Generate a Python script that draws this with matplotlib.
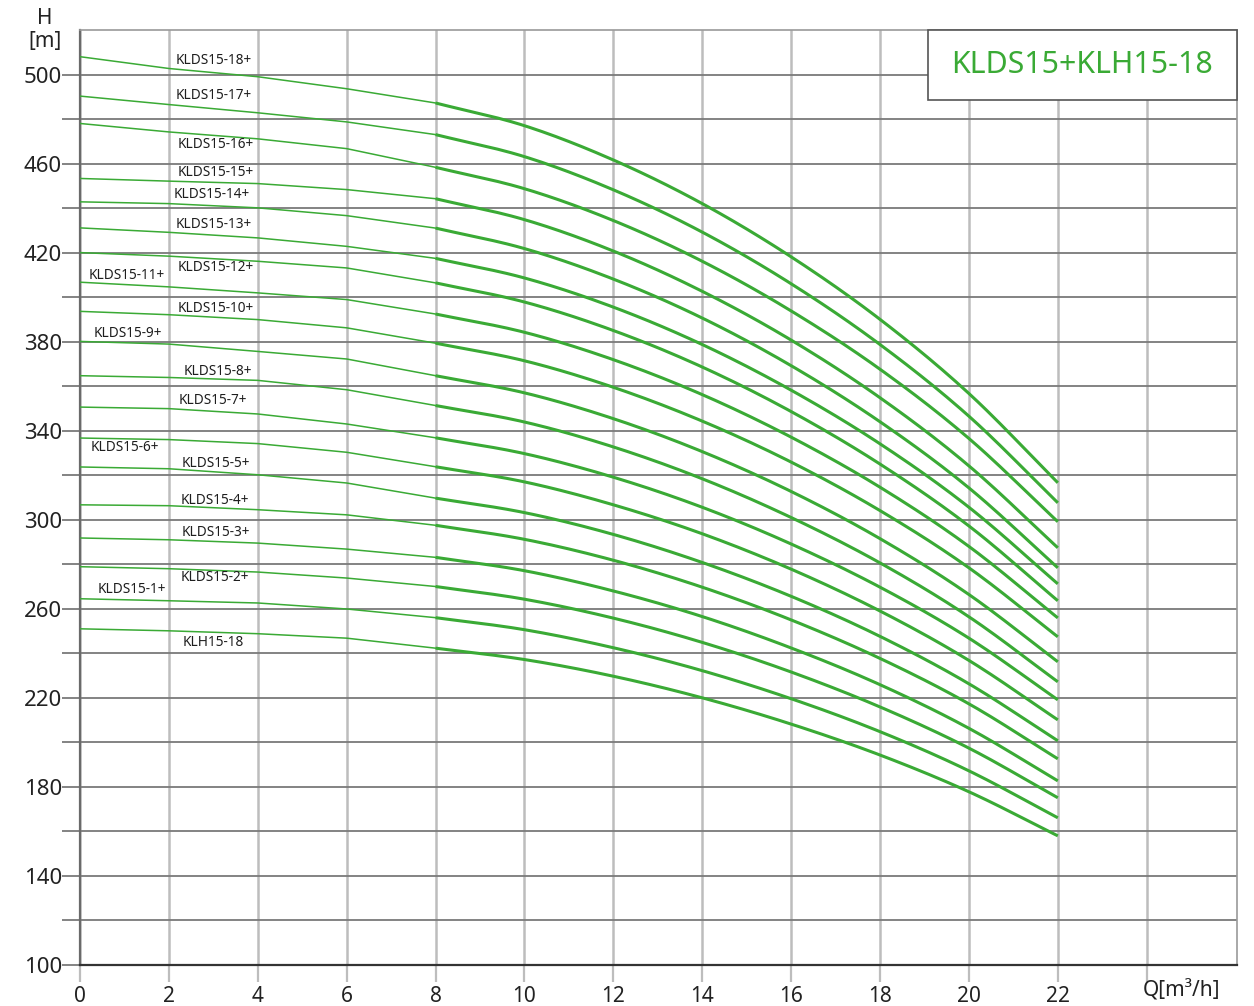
import numpy as np
import matplotlib
matplotlib.use("Agg")
import matplotlib.pyplot as plt
import matplotlib.ticker as mticker
from matplotlib.patches import Rectangle

plt.rcParams["font.family"] = ["Noto Sans", "DejaVu Sans"]

# flow points [m3/h]
Q = [0, 2, 4, 6, 8, 10, 12, 14, 16, 18, 20, 22]

# head [m], one list per pump model
H_18P = [508.0, 502.7, 499.0, 493.6, 487.2, 477.0, 461.6, 442.0, 418.1, 390.0, 356.7, 316.6]
H_17P = [490.3, 486.5, 482.8, 478.7, 473.0, 463.1, 448.2, 429.2, 406.0, 378.7, 346.5, 307.6]
H_16P = [478.0, 474.2, 471.1, 466.7, 458.3, 448.7, 434.4, 416.1, 393.8, 367.6, 336.5, 299.1]
H_15P = [453.3, 452.1, 451.0, 448.3, 444.2, 434.8, 420.7, 402.6, 380.7, 354.8, 324.2, 287.4]
H_14P = [442.8, 442.0, 440.1, 436.6, 431.0, 421.8, 408.1, 390.6, 369.2, 344.0, 314.3, 278.4]
H_13P = [431.1, 429.1, 426.6, 422.8, 417.4, 408.6, 395.5, 378.7, 358.2, 334.1, 305.6, 271.2]
H_12P = [420.0, 418.4, 416.1, 413.1, 406.4, 397.8, 385.0, 368.6, 348.6, 325.0, 297.2, 263.6]
H_11P = [406.7, 404.6, 401.9, 398.9, 392.4, 384.2, 371.9, 356.2, 337.1, 314.6, 288.0, 255.9]
H_10P = [393.6, 392.1, 389.9, 386.2, 379.3, 371.4, 359.5, 344.3, 325.9, 304.1, 278.4, 247.4]
H_9P  = [380.1, 378.9, 375.6, 372.2, 364.7, 357.0, 345.4, 330.6, 312.7, 291.5, 266.4, 236.2]
H_8P  = [364.7, 363.9, 362.6, 358.4, 351.3, 343.9, 332.7, 318.4, 301.0, 280.6, 256.4, 227.2]
H_7P  = [350.6, 349.9, 347.5, 343.0, 336.8, 329.7, 319.1, 305.6, 289.1, 269.7, 246.8, 219.1]
H_6P  = [336.7, 336.0, 334.2, 330.3, 323.8, 317.0, 306.7, 293.7, 277.8, 259.0, 236.8, 210.1]
H_5P  = [323.7, 322.9, 320.2, 316.5, 309.7, 303.2, 293.4, 280.8, 265.6, 247.6, 226.3, 200.7]
H_4P  = [306.7, 306.3, 304.5, 302.2, 297.5, 291.2, 281.8, 269.7, 255.0, 237.7, 217.3, 192.6]
H_3P  = [291.8, 291.0, 289.5, 286.8, 283.1, 277.1, 268.0, 256.5, 242.4, 225.9, 206.3, 182.7]
H_2P  = [278.9, 278.0, 276.5, 273.8, 270.0, 264.3, 255.8, 244.9, 231.6, 215.9, 197.4, 175.1]
H_1P  = [264.5, 263.6, 262.6, 259.9, 256.0, 250.6, 242.5, 232.2, 219.6, 204.8, 187.2, 166.1]
H_KLH = [251.0, 250.1, 248.8, 246.8, 242.3, 237.2, 229.7, 220.0, 208.2, 194.3, 177.8, 158.0]

MODELS = ["KLDS15-18+", "KLDS15-17+", "KLDS15-16+", "KLDS15-15+", "KLDS15-14+",
          "KLDS15-13+", "KLDS15-12+", "KLDS15-11+", "KLDS15-10+", "KLDS15-9+",
          "KLDS15-8+", "KLDS15-7+", "KLDS15-6+", "KLDS15-5+", "KLDS15-4+",
          "KLDS15-3+", "KLDS15-2+", "KLDS15-1+", "KLH15-18"]
CURVES = [H_18P, H_17P, H_16P, H_15P, H_14P, H_13P, H_12P, H_11P, H_10P, H_9P,
          H_8P, H_7P, H_6P, H_5P, H_4P, H_3P, H_2P, H_1P, H_KLH]

# where the model names sit (Q, H)
LABEL_Q = [3.0, 3.0, 3.05, 3.05, 2.97, 3.0, 3.05, 1.06, 3.05, 1.08,
           3.1, 3.0, 1.0, 3.05, 3.04, 3.05, 3.04, 1.17, 3.0]
LABEL_H = [506.3, 490.6, 468.5, 455.9, 446.1, 432.6, 413.3, 409.7, 394.8, 383.6,
           366.7, 353.7, 332.6, 325.4, 308.8, 294.4, 274.2, 268.8, 244.7]

TITLE = "KLDS15+KLH15-18"
GREEN = "#3aaa35"


def smooth(xs, ys, n=20):
    """Catmull-Rom pass through the read points, only to draw a smooth line."""
    xs = np.asarray(xs, float)
    ys = np.asarray(ys, float)
    px = np.concatenate([[2 * xs[0] - xs[1]], xs, [2 * xs[-1] - xs[-2]]])
    py = np.concatenate([[2 * ys[0] - ys[1]], ys, [2 * ys[-1] - ys[-2]]])
    out_x, out_y = [], []
    t = np.linspace(0, 1, n, endpoint=False)
    for i in range(1, len(px) - 2):
        for p, out in ((px, out_x), (py, out_y)):
            p0, p1, p2, p3 = p[i - 1], p[i], p[i + 1], p[i + 2]
            out.extend(0.5 * (2 * p1 + (p2 - p0) * t
                              + (2 * p0 - 5 * p1 + 4 * p2 - p3) * t ** 2
                              + (3 * p1 - p0 - 3 * p2 + p3) * t ** 3))
    out_x.append(xs[-1])
    out_y.append(ys[-1])
    return out_x, out_y


fig = plt.figure(figsize=(12.54, 10.06), dpi=100)
ax = fig.add_axes([0.0638, 0.0408, 0.9226, 0.9294])

split = Q.index(8)
for h in CURVES:
    ax.plot(Q[:split + 1], h[:split + 1], color=GREEN, lw=1.1, zorder=3)
    sx, sy = smooth(Q[split:], h[split:])
    ax.plot(sx, sy, color=GREEN, lw=2.2, zorder=3, solid_capstyle="butt")

for name, lq, lh in zip(MODELS, LABEL_Q, LABEL_H):
    ax.text(lq, lh, name, fontsize=9.8, color="#1e1e1e", ha="center",
            va="center", zorder=4)

ax.set_xlim(0, 26.03)
ax.set_ylim(100, 520)

ax.set_xticks(np.arange(0, 25, 2))
ax.set_xticklabels([str(v) for v in range(0, 23, 2)] + [""])
ax.set_yticks(np.arange(100, 520, 20))
ax.yaxis.set_major_formatter(mticker.FuncFormatter(
    lambda v, _: f"{int(v)}" if (int(v) - 100) % 40 == 0 else ""))

ax.grid(axis="y", color="#7a7a7a", lw=1.3)
ax.grid(axis="x", color="#bdbdbd", lw=1.8)
ax.set_axisbelow(True)

ax.tick_params(axis="y", length=13, width=1.3, color="#7a7a7a", pad=0,
               labelsize=16, labelcolor="#222222")
ax.tick_params(axis="x", length=12, width=1.6, color="#bdbdbd", pad=3,
               labelsize=15, labelcolor="#222222")

for side in ["top", "right"]:
    ax.spines[side].set_color("#9a9a9a")
    ax.spines[side].set_linewidth(1.2)
ax.spines["left"].set_color("#6a6a6a")
ax.spines["left"].set_linewidth(1.6)
ax.spines["bottom"].set_color("#333333")
ax.spines["bottom"].set_linewidth(1.6)

ax.text(23.9, -0.028, "Q[m³/h]", transform=ax.get_xaxis_transform(),
        fontsize=15, color="#222222", ha="left", va="center")
fig.text(45 / 1254, 1 - 18 / 1006, "H", fontsize=15, color="#222222",
         ha="center", va="center")
fig.text(45 / 1254, 1 - 42 / 1006, "[m]", fontsize=15, color="#222222",
         ha="center", va="center")

# title box in the upper right corner
box = Rectangle((928 / 1254, 1 - 100 / 1006), (1237 - 928) / 1254, 70 / 1006,
                transform=fig.transFigure, facecolor="white",
                edgecolor="#555555", lw=1.2, zorder=5)
fig.patches.append(box)
fig.text((928 + 1237) / 2 / 1254, 1 - 65 / 1006, TITLE, fontsize=21.8,
         color=GREEN, ha="center", va="center", zorder=6)

fig.savefig("out.png", dpi=100)
